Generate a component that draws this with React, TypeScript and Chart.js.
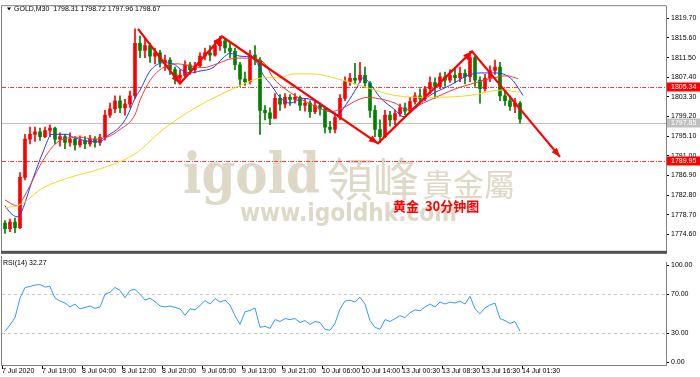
import React, { useEffect, useRef } from "react";
import { Chart, registerables } from "chart.js";
Chart.register(...registerables);

// ---------------- DATA ----------------
const headerText = "GOLD,M30  1798.31 1798.72 1797.96 1798.67";
const rsiTitle = "RSI(14) 32.27";
const chartNote = "黄金  30分钟图";

const firstOpen = 1777.0;
const closes = [
  1775.8, 1777.2, 1776.0, 1786.5, 1794.5, 1795.5, 1796.0, 1795.0, 1796.3, 1796.8,
  1794.5, 1795.0, 1793.8, 1794.5, 1793.3, 1794.2, 1793.5, 1794.5, 1793.8, 1794.8,
  1799.5, 1800.8, 1802.5, 1801.0, 1801.8, 1803.5, 1814.5, 1813.0, 1814.0, 1811.8,
  1812.5, 1810.5, 1811.0, 1809.0, 1807.2, 1807.8, 1810.0, 1809.0, 1809.8, 1811.8,
  1812.5, 1812.0, 1814.0, 1815.0, 1813.5, 1812.8, 1810.0, 1807.0, 1806.5, 1812.0,
  1811.0, 1800.5, 1800.0, 1798.8, 1803.0, 1801.8, 1803.2, 1802.8, 1803.2, 1801.5,
  1802.0, 1800.2, 1801.5, 1800.8, 1797.0, 1796.5, 1799.0, 1803.0, 1806.5, 1807.2,
  1806.8, 1807.8, 1806.2, 1800.5, 1796.5, 1795.0, 1799.5, 1798.5, 1799.8, 1801.0,
  1800.3, 1802.3, 1803.5, 1803.0, 1805.0, 1806.3, 1805.5, 1807.5, 1806.8, 1807.8,
  1807.3, 1808.2, 1807.5, 1811.5, 1806.8, 1805.0, 1807.2, 1808.8, 1809.5, 1803.5,
  1802.5, 1801.3, 1802.0, 1798.67,
];
const highs = [
  1777.5, 1777.8, 1778.0, 1787.5, 1795.5, 1797.0, 1797.0, 1796.8, 1797.0, 1797.5,
  1797.0, 1795.8, 1795.5, 1795.8, 1795.0, 1795.2, 1795.0, 1795.3, 1795.0, 1795.5,
  1800.5, 1802.0, 1803.5, 1803.5, 1802.8, 1804.5, 1817.5, 1816.0, 1815.5, 1814.5,
  1813.5, 1813.0, 1812.0, 1811.5, 1809.5, 1809.0, 1810.8, 1810.5, 1810.5, 1812.5,
  1813.5, 1814.0, 1815.0, 1816.0, 1815.5, 1814.5, 1813.5, 1810.5, 1808.5, 1813.0,
  1814.0, 1811.5, 1801.5, 1801.0, 1804.0, 1803.8, 1804.0, 1803.8, 1804.0, 1803.5,
  1803.0, 1802.5, 1802.5, 1802.0, 1801.0, 1798.2, 1800.0, 1803.8, 1807.5, 1808.2,
  1810.3, 1810.5, 1809.5, 1806.5, 1801.5, 1798.5, 1800.5, 1800.3, 1800.5, 1801.8,
  1802.0, 1803.2, 1804.2, 1805.0, 1805.5, 1807.5, 1807.3, 1808.3, 1808.5, 1809.0,
  1809.3, 1809.5, 1809.0, 1812.8, 1811.8, 1807.5, 1808.0, 1809.8, 1811.0, 1810.5,
  1804.5, 1803.5, 1803.0, 1802.3,
];
const lows = [
  1774.8, 1775.2, 1775.0, 1775.8, 1786.0, 1793.5, 1794.0, 1794.2, 1794.8, 1795.0,
  1793.5, 1793.0, 1792.5, 1793.0, 1792.2, 1792.8, 1792.5, 1793.0, 1792.8, 1793.2,
  1794.3, 1799.0, 1800.0, 1800.0, 1799.5, 1801.0, 1803.0, 1811.5, 1811.5, 1810.5,
  1810.2, 1809.5, 1808.8, 1808.0, 1806.0, 1806.2, 1807.5, 1808.0, 1808.3, 1809.5,
  1811.0, 1810.8, 1811.8, 1813.0, 1812.5, 1811.5, 1809.0, 1805.5, 1805.7, 1806.0,
  1810.0, 1795.5, 1798.5, 1797.5, 1799.0, 1800.5, 1801.0, 1801.5, 1802.0, 1800.5,
  1800.3, 1799.0, 1799.8, 1799.5, 1795.8, 1795.8, 1795.8, 1798.5, 1802.5, 1805.7,
  1806.0, 1806.3, 1805.5, 1799.0, 1795.0, 1793.7, 1794.8, 1797.2, 1797.5, 1799.3,
  1799.6, 1800.0, 1801.8, 1802.0, 1802.5, 1804.0, 1803.0, 1805.0, 1805.5, 1806.3,
  1806.2, 1806.5, 1806.0, 1806.5, 1805.5, 1802.0, 1804.5, 1806.5, 1808.0, 1802.5,
  1801.5, 1800.5, 1800.0, 1797.8,
];

// moving averages: [bar index, price]
const maBlue: [number, number][] = [
  [0, 1780.6], [1, 1779.2], [2.4, 1778.3], [3, 1778.7], [5.6, 1786.3], [7.6, 1791.8], [9.4, 1795.5],
  [12.4, 1795.5], [13.6, 1794.9], [16.4, 1794.1], [19, 1793.9], [20.4, 1795.1], [23, 1797.1],
  [24.4, 1799.2], [26, 1803.0], [27, 1804.7], [29, 1808.7], [31.6, 1810.4], [33.6, 1810.2],
  [35.6, 1808.7], [37, 1808.3], [39, 1808.7], [41.6, 1809.4], [43.6, 1811.4], [45, 1812.4],
  [47, 1811.8], [49.6, 1811.4], [52, 1807.3], [53, 1806.1], [55, 1803.2], [57, 1802.0],
  [59.6, 1803.0], [61.6, 1802.6], [64.4, 1800.6], [66.4, 1799.6], [68.4, 1802.0], [70.4, 1805.3],
  [71.6, 1807.3], [73, 1806.1], [75, 1803.2], [78, 1800.6], [79.6, 1799.2], [82.4, 1801.2],
  [85, 1803.6], [89, 1805.7], [92.4, 1807.7], [95, 1808.3], [97.6, 1808.3], [99.6, 1808.1],
  [101.6, 1806.7], [103.6, 1803.6],
];
const maRed: [number, number][] = [
  [0, 1781.8], [2.4, 1780.6], [4.4, 1783.6], [7, 1789.0], [9.6, 1793.0], [11.6, 1794.5],
  [15, 1794.9], [17.6, 1794.5], [20.4, 1794.9], [23, 1796.5], [26, 1799.6], [27, 1802.6],
  [29, 1806.7], [31.6, 1809.4], [34.4, 1810.2], [37, 1809.8], [39.6, 1809.4], [42.4, 1810.2],
  [45, 1811.2], [47.6, 1811.4], [50.4, 1811.2], [52, 1810.2], [53.6, 1807.3], [56.4, 1804.7],
  [59.6, 1802.6], [62.4, 1801.2], [65, 1800.2], [67.6, 1801.0], [70.4, 1802.6], [72.4, 1803.2],
  [74.4, 1803.0], [78, 1802.0], [80.4, 1800.6], [83.6, 1802.0], [87, 1803.6], [90.4, 1805.1],
  [93.6, 1806.1], [97, 1807.1], [100.4, 1807.7], [102.6, 1807.1],
];
const maYellow: [number, number][] = [
  [0, 1780.2], [3, 1780.8], [7.6, 1784.3], [13.6, 1786.7], [19, 1788.3], [26, 1791.4],
  [31.6, 1796.5], [38.4, 1801.2], [45, 1804.7], [52, 1807.3], [55, 1807.3], [57.6, 1808.1],
  [61.6, 1808.1], [66.4, 1807.1], [71, 1805.7], [78, 1803.6], [85, 1803.2], [93, 1803.6],
  [99, 1804.7], [103, 1804.3],
];

const rsiValues = [
  32, 38.5, 46, 66, 77, 78, 79.5, 80, 77.5, 78,
  66, 63, 61, 57, 60, 55, 56.5, 58, 55.5, 57,
  70, 72, 77, 74, 66.4, 74, 75, 70, 64, 66,
  62.5, 58, 57, 58, 56.5, 55, 48.4, 55, 54, 58.5,
  63.5, 60, 65.7, 62, 64, 59, 48, 39, 52, 53.3,
  56, 36, 37, 35, 44, 42, 45, 44, 45, 41,
  43, 39, 42, 41, 34, 33, 40, 55, 63, 64,
  62, 67, 60, 43, 36, 34, 44, 42, 45, 48,
  46, 51, 54, 53, 57, 60, 57, 62, 60, 62,
  61, 63, 60, 68, 55, 50, 56, 59, 61, 45,
  43, 40, 42, 32.27,
];

const priceTicks = [1774.6, 1778.7, 1782.8, 1786.9, 1791.0, 1795.1, 1799.2, 1803.3, 1807.4, 1811.5, 1815.6, 1819.7];
const rsiTicks = [0, 30, 70, 100];
const rsiLevels = [30, 70];
const resistanceLevel = 1805.34;
const supportLevel = 1789.95;
const priceLine = 1797.85;

const xTickIndex = [0, 8, 16, 24, 32, 40, 48, 56, 64, 72, 80, 88, 96, 104];
const xTickLabels = [
  "7 Jul 2020", "7 Jul 19:00", "8 Jul 04:00", "8 Jul 12:00", "8 Jul 20:00", "9 Jul 05:00",
  "9 Jul 13:00", "9 Jul 21:00", "10 Jul 06:00", "10 Jul 14:00", "13 Jul 00:30", "13 Jul 08:30",
  "13 Jul 16:30", "14 Jul 01:30",
];

// trend arrows (bar index, price)
const arrowIdx = [26.6, 35, 43.4, 74.6, 93.4, 111];
const arrowPrice = [1817.5, 1806.1, 1815.9, 1793.6, 1812.8, 1790.8];

// ---------------- STYLE ----------------
const UP = "#ff0000";
const DOWN = "#008000";
const AXIS_FONT = '"Liberation Sans", Arial, sans-serif';
const WM = "rgb(222,216,198)";
const LEVEL_RED = "rgb(255,60,60)";

const X_MIN = -0.6;
const X_MAX = 132.2;

function drawFitText(ctx: CanvasRenderingContext2D, text: string, font: string, x: number, baseline: number, width: number, color: string) {
  ctx.save();
  ctx.font = font;
  ctx.fillStyle = color;
  ctx.textBaseline = "alphabetic";
  ctx.textAlign = "left";
  const w = ctx.measureText(text).width;
  ctx.translate(x, baseline);
  ctx.scale(width / w, 1);
  ctx.fillText(text, 0, 0);
  ctx.restore();
}

function axisBox(ctx: CanvasRenderingContext2D, y: number, text: string, bg: string) {
  ctx.fillStyle = bg;
  ctx.fillRect(667, Math.round(y) - 4.5, 33, 9);
  ctx.fillStyle = "#fff";
  ctx.font = `7px ${AXIS_FONT}`;
  ctx.textAlign = "left";
  ctx.textBaseline = "middle";
  ctx.fillText(text, 671, Math.round(y));
}

function dashDot(ctx: CanvasRenderingContext2D, x0: number, x1: number, py: number, color: string) {
  ctx.fillStyle = color;
  for (let x = x0; x < x1; x += 8) {
    ctx.fillRect(x, py, Math.min(4, x1 - x), 1);
    if (x + 6 < x1) ctx.fillRect(x + 6, py, 1, 1);
  }
}

const mainDecor = {
  id: "mainDecor",
  beforeDatasetsDraw(chart: any) {
    const { ctx, chartArea: a, scales } = chart;
    const y = scales.y;
    ctx.save();
    // watermark
    drawFitText(ctx, "igold", 'bold 56px "DejaVu Serif", serif', 183, 193, 137, WM);
    ctx.fillStyle = WM;
    ctx.textBaseline = "alphabetic";
    ctx.textAlign = "left";
    ctx.font = '46px "Noto Sans CJK TC"';
    ctx.fillText("領峰", 327, 196);
    ctx.font = '31px "Noto Sans CJK TC"';
    ctx.fillText("貴金屬", 422, 196);
    drawFitText(ctx, "www.igoldhk.com", 'bold 24px "DejaVu Sans", sans-serif', 240, 221, 217, WM);

    // horizontal lines
    ctx.fillStyle = "#c0c0c0";
    ctx.fillRect(a.left, Math.round(y.getPixelForValue(priceLine)), a.right - a.left, 1);
    for (const lv of [resistanceLevel, supportLevel]) {
      dashDot(ctx, a.left, a.right, Math.round(y.getPixelForValue(lv)), LEVEL_RED);
    }
    ctx.restore();
  },
  afterDatasetsDraw(chart: any) {
    const { ctx, chartArea: a, scales } = chart;
    const x = scales.x;
    const y = scales.y;
    ctx.save();
    // arrows
    const pts = arrowIdx.map((v, i) => [x.getPixelForValue(v), y.getPixelForValue(arrowPrice[i])]);
    ctx.strokeStyle = "#ff0000";
    ctx.fillStyle = "#ff0000";
    ctx.lineWidth = 2.2;
    ctx.lineJoin = "miter";
    ctx.beginPath();
    pts.forEach((p, i) => (i === 0 ? ctx.moveTo(p[0], p[1]) : ctx.lineTo(p[0], p[1])));
    ctx.stroke();
    for (let i = 1; i < pts.length; i++) {
      const [x0, y0] = pts[i - 1];
      const [x1, y1] = pts[i];
      const ang = Math.atan2(y1 - y0, x1 - x0);
      const L = 9, W = 3.5;
      ctx.beginPath();
      ctx.moveTo(x1, y1);
      ctx.lineTo(x1 - L * Math.cos(ang) + W * Math.sin(ang), y1 - L * Math.sin(ang) - W * Math.cos(ang));
      ctx.lineTo(x1 - L * Math.cos(ang) - W * Math.sin(ang), y1 - L * Math.sin(ang) + W * Math.cos(ang));
      ctx.closePath();
      ctx.fill();
    }

    // note text
    ctx.fillStyle = "#ff0000";
    ctx.font = 'bold 13px "Noto Sans CJK SC"';
    ctx.textBaseline = "middle";
    ctx.textAlign = "left";
    ctx.fillText(chartNote, 393, 206);

    // header
    ctx.fillStyle = "#000";
    ctx.beginPath();
    ctx.moveTo(7, 7.5);
    ctx.lineTo(11, 7.5);
    ctx.lineTo(9, 10.5);
    ctx.closePath();
    ctx.fill();
    ctx.font = `7px ${AXIS_FONT}`;
    ctx.textBaseline = "middle";
    ctx.fillText(headerText, 14, 9.5);

    // frame
    ctx.strokeStyle = "#808080";
    ctx.lineWidth = 1;
    ctx.beginPath();
    ctx.moveTo(a.left - 0.5, a.top - 0.5);
    ctx.lineTo(a.right + 0.5, a.top - 0.5);
    ctx.moveTo(a.left - 0.5, a.top - 0.5);
    ctx.lineTo(a.left - 0.5, a.bottom + 3);
    ctx.stroke();
    ctx.fillStyle = "#505050";
    ctx.fillRect(a.left - 1, a.bottom, a.right - a.left + 2, 3);

    // axis boxes
    axisBox(ctx, y.getPixelForValue(priceLine), priceLine.toFixed(2), "#c0c0c0");
    axisBox(ctx, y.getPixelForValue(resistanceLevel), resistanceLevel.toFixed(2), "#ff0000");
    axisBox(ctx, y.getPixelForValue(supportLevel), supportLevel.toFixed(2), "#ff0000");
    ctx.restore();
  },
};

const rsiDecor = {
  id: "rsiDecor",
  beforeDatasetsDraw(chart: any) {
    const { ctx, chartArea: a, scales } = chart;
    ctx.save();
    ctx.fillStyle = "#c8c8c8";
    for (const lv of rsiLevels) {
      const py = Math.round(scales.y.getPixelForValue(lv));
      for (let x = a.left; x < a.right; x += 6) ctx.fillRect(x, py, 3, 1);
    }
    ctx.restore();
  },
  afterDatasetsDraw(chart: any) {
    const { ctx, chartArea: a, scales } = chart;
    ctx.save();
    ctx.fillStyle = "#000";
    ctx.font = `7px ${AXIS_FONT}`;
    ctx.textBaseline = "middle";
    ctx.textAlign = "left";
    ctx.fillText(rsiTitle, 3, 7);
    // frame
    ctx.strokeStyle = "#808080";
    ctx.lineWidth = 1;
    ctx.beginPath();
    ctx.moveTo(a.left - 0.5, 0);
    ctx.lineTo(a.left - 0.5, a.bottom + 0.5);
    ctx.lineTo(a.right + 0.5, a.bottom + 0.5);
    ctx.stroke();
    // x labels
    ctx.strokeStyle = "#000";
    xTickIndex.forEach((v, i) => {
      const px = Math.round(scales.x.getPixelForValue(v)) - 2.5;
      ctx.beginPath();
      ctx.moveTo(px, a.bottom + 1);
      ctx.lineTo(px, a.bottom + 4);
      ctx.stroke();
      ctx.fillText(xTickLabels[i], px - 0.5, a.bottom + 6);
    });
    ctx.restore();
  },
};

export default function App() {
  const mainRef = useRef<HTMLCanvasElement>(null);
  const rsiRef = useRef<HTMLCanvasElement>(null);

  useEffect(() => {
    document.body.style.margin = "0";
    const opens = closes.map((c, i) => (i === 0 ? firstOpen : closes[i - 1]));
    const colors = closes.map((c, i) => (c >= opens[i] ? UP : DOWN));
    const bodies = closes.map((c, i) => ({ x: i, y: [opens[i], c] }));
    const wicks = closes.map((c, i) => ({ x: i, y: [lows[i], highs[i]] }));
    const toPts = (arr: [number, number][]) => arr.map(([i, v]) => ({ x: i, y: v }));

    const lineDs = (data: any, color: string, w = 1) => ({
      type: "line" as const,
      data,
      borderColor: color,
      borderWidth: w,
      pointRadius: 0,
      tension: 0.4,
      cubicInterpolationMode: "monotone" as const,
      order: 0,
    });

    const main = new Chart(mainRef.current!, {
      type: "bar",
      data: {
        datasets: [
          lineDs(toPts(maYellow), "#ffd21f"),
          lineDs(toPts(maRed), "#f03a3a"),
          lineDs(toPts(maBlue), "#1f3cff"),
          {
            type: "bar",
            data: wicks as any,
            backgroundColor: colors,
            barThickness: 1,
            grouped: false,
            borderWidth: 0,
            order: 2,
          },
          {
            type: "bar",
            data: bodies as any,
            backgroundColor: colors,
            barThickness: 3,
            grouped: false,
            borderWidth: 0,
            order: 1,
          },
        ] as any,
      },
      options: {
        animation: false,
        responsive: false,
        maintainAspectRatio: false,
        events: [],
        layout: { padding: { left: 2, top: 4, right: 0, bottom: 3 } },
        plugins: { legend: { display: false }, tooltip: { enabled: false } },
        scales: {
          x: { type: "linear", min: X_MIN, max: X_MAX, display: false, offset: false },
          y: {
            position: "right",
            min: 1771.2,
            max: 1822.22,
            afterFit: (s: any) => { s.width = 34; },
            afterBuildTicks: (s: any) => { s.ticks = priceTicks.map((v) => ({ value: v })); },
            ticks: {
              autoSkip: false,
              padding: 2,
              color: "#000",
              font: { family: AXIS_FONT, size: 7 },
              callback: (v: any) => Number(v).toFixed(2),
            },
            grid: { drawOnChartArea: false, tickLength: 3, tickColor: "#000" },
            border: { display: true, color: "#808080" },
          },
        },
      },
      plugins: [mainDecor],
    });

    const rsi = new Chart(rsiRef.current!, {
      type: "line",
      data: {
        datasets: [
          {
            data: rsiValues.map((v, i) => ({ x: i, y: v })),
            borderColor: "#3399ff",
            borderWidth: 1,
            pointRadius: 0,
            tension: 0,
          },
        ],
      },
      options: {
        animation: false,
        responsive: false,
        maintainAspectRatio: false,
        events: [],
        layout: { padding: { left: 2, top: 2, right: 0, bottom: 12 } },
        plugins: { legend: { display: false }, tooltip: { enabled: false } },
        scales: {
          x: { type: "linear", min: X_MIN, max: X_MAX, display: false },
          y: {
            position: "right",
            min: -2.7,
            max: 103,
            afterFit: (s: any) => { s.width = 34; },
            afterBuildTicks: (s: any) => { s.ticks = rsiTicks.map((v) => ({ value: v })); },
            ticks: {
              autoSkip: false,
              padding: 2,
              color: "#000",
              font: { family: AXIS_FONT, size: 7 },
              callback: (v: any) => Number(v).toFixed(2),
            },
            grid: { drawOnChartArea: false, tickLength: 3, tickColor: "#000" },
            border: { display: true, color: "#808080" },
          },
        },
      },
      plugins: [rsiDecor],
    });

    return () => {
      main.destroy();
      rsi.destroy();
    };
  }, []);

  return (
    <div style={{ position: "fixed", left: 0, top: 0, width: 700, height: 377, background: "#fff" }}>
      <canvas ref={mainRef} width={700} height={257} style={{ position: "absolute", left: 0, top: 0, width: 700, height: 257 }} />
      <canvas ref={rsiRef} width={700} height={121} style={{ position: "absolute", left: 0, top: 256, width: 700, height: 121 }} />
    </div>
  );
}
